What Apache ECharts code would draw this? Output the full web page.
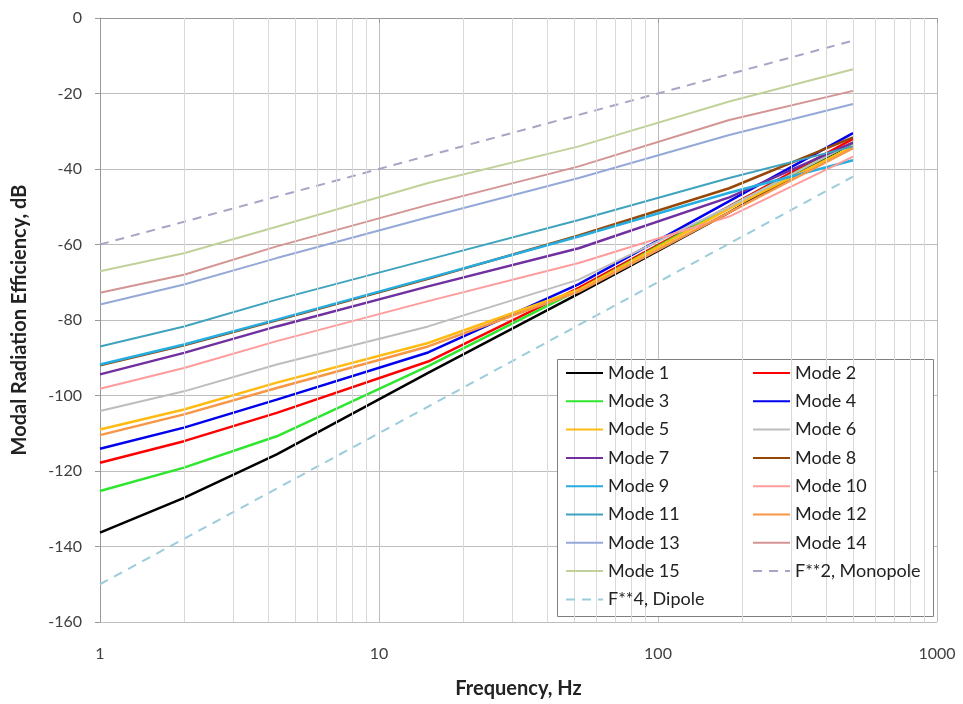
<!DOCTYPE html>
<html>
<head>
<meta charset="utf-8">
<script src="https://cdn.jsdelivr.net/npm/echarts@6/dist/echarts.min.js"></script>
<style>
html,body{margin:0;padding:0;background:#fff;}
#chart{width:963px;height:704px;}
</style>
</head>
<body>
<div id="chart"></div>
<script>
// Frequencies (Hz) at which the mode curves are sampled
var freqs = [1, 2, 4.3, 15, 52, 180, 500];

var mode1  = [-136.3, -127.1, -115.6, -94.0, -73.0, -51.5, -33.0];
var mode2  = [-117.8, -112.1, -104.6, -91.0, -71.5, -49.9, -32.0];
var mode3  = [-125.3, -119.1, -110.8, -92.2, -72.0, -50.0, -33.0];
var mode4  = [-114.1, -108.5, -101.1, -88.6, -70.5, -48.5, -30.5];
var mode5  = [-109.0, -103.7, -96.6, -86.1, -72.0, -50.5, -34.0];
var mode6  = [-104.1, -98.9, -91.8, -81.7, -69.3, -50.0, -33.0];
var mode7  = [-94.4, -88.7, -81.7, -71.1, -61.0, -47.5, -33.0];
var mode8  = [-92.0, -86.7, -80.1, -69.1, -57.6, -45.1, -31.6];
var mode9  = [-91.8, -86.5, -79.9, -68.9, -57.9, -46.3, -37.7];
var mode10 = [-98.2, -92.7, -85.6, -75.0, -64.9, -52.6, -36.7];
var mode11 = [-87.0, -81.7, -74.6, -64.0, -53.5, -42.4, -34.0];
var mode12 = [-110.5, -105.0, -98.0, -87.0, -72.5, -51.5, -34.5];
var mode13 = [-75.9, -70.6, -63.6, -52.8, -42.4, -31.0, -22.8];
var mode14 = [-72.8, -68.0, -60.5, -49.5, -39.3, -27.0, -19.3];
var mode15 = [-67.1, -62.3, -55.3, -43.7, -34.0, -22.1, -13.6];

// Reference lines (end points)
var refFreqs = [1, 500];
var monopole = [-60, -6];
var dipole = [-150, -42];

// Axis ticks
var yTicks = {min: -160, max: 0, interval: 20};
var xRange = {min: 1, max: 1000};
var minorGridFreqs = [2,3,4,5,6,7,8,9,20,30,40,50,60,70,80,90,200,300,400,500,600,700,800,900];

function pairs(xs, ys){ return xs.map(function(x,i){ return [x, ys[i]]; }); }

var modes = [
  {name:'Mode 1', data:mode1, color:'#000000', w:2.5},
  {name:'Mode 2', data:mode2, color:'#ff0000', w:2.5},
  {name:'Mode 3', data:mode3, color:'#2ee62e', w:2.5},
  {name:'Mode 4', data:mode4, color:'#0000ee', w:2.5},
  {name:'Mode 5', data:mode5, color:'#ffbb11', w:2.5},
  {name:'Mode 6', data:mode6, color:'#bdbdbd', w:2},
  {name:'Mode 7', data:mode7, color:'#7030a0', w:2.5},
  {name:'Mode 8', data:mode8, color:'#974706', w:2.5},
  {name:'Mode 9', data:mode9, color:'#25ade0', w:2.5},
  {name:'Mode 10', data:mode10, color:'#ff9b9b', w:2},
  {name:'Mode 11', data:mode11, color:'#3fa3bd', w:2},
  {name:'Mode 12', data:mode12, color:'#f79646', w:2.5},
  {name:'Mode 13', data:mode13, color:'#95a9d8', w:2},
  {name:'Mode 14', data:mode14, color:'#d39593', w:2},
  {name:'Mode 15', data:mode15, color:'#c0d29a', w:2}
];

var series = modes.map(function(m){
  return {
    name: m.name, type:'line', data: pairs(freqs, m.data),
    symbol:'none', showSymbol:false, smooth:false,
    lineStyle:{color:m.color, width:m.w}, itemStyle:{color:m.color},
    animation:false, z:3
  };
});
series.push({
  name:'F**2, Monopole', type:'line', data: pairs(refFreqs, monopole),
  symbol:'none', lineStyle:{color:'#aba3c5', width:2, type:[9,7]}, itemStyle:{color:'#aba3c5'},
  animation:false, z:3
});
series.push({
  name:'F**4, Dipole', type:'line', data: pairs(refFreqs, dipole),
  symbol:'none', lineStyle:{color:'#9cccdc', width:2, type:[9,7]}, itemStyle:{color:'#9cccdc'},
  animation:false, z:3
});
// minor vertical grid lines via markLine
series.push({
  name:'_grid', type:'line', data:[], symbol:'none', animation:false, z:1, silent:true,
  markLine:{
    silent:true, symbol:['none','none'], label:{show:false}, animation:false,
    lineStyle:{color:'#d9d9d9', width:1, type:'solid'},
    data: minorGridFreqs.map(function(f){ return {xAxis:f}; })
  }
});

var col1 = ['Mode 1','Mode 3','Mode 5','Mode 7','Mode 9','Mode 11','Mode 13','Mode 15','F**4, Dipole'];
var col2 = ['Mode 2','Mode 4','Mode 6','Mode 8','Mode 10','Mode 12','Mode 14','F**2, Monopole'];
var font = 'Lato, "Open Sans", sans-serif';
function legendCfg(data, left){
  return {
    data: data, orient:'vertical', left:left, top:364, padding:0, z:6,
    itemWidth:37, itemHeight:18, itemGap:10.3,
    itemStyle:{opacity:0},
    textStyle:{fontSize:18, color:'#222', fontFamily:font, lineHeight:18},
    selectedMode:false
  };
}

var chart = echarts.init(document.getElementById('chart'), null, {renderer:'canvas'});
chart.setOption({
  backgroundColor:'#ffffff',
  animation:false,
  grid:{left:100, right:26, top:18, bottom:81, containLabel:false},
  xAxis:{
    type:'log', logBase:10, min:xRange.min, max:xRange.max,
    name:'Frequency, Hz', nameLocation:'middle', nameGap:57,
    nameTextStyle:{fontSize:20, fontWeight:'bold', color:'#222', fontFamily:font},
    axisLine:{show:true, lineStyle:{color:'#999', width:1}},
    axisTick:{show:true, length:5, lineStyle:{color:'#999'}},
    axisLabel:{fontSize:16, color:'#404040', margin:24, fontFamily:font,
      formatter:function(v){ return String(Math.round(v)); }},
    splitLine:{show:true, lineStyle:{color:'#bdbdbd', width:1}},
    minorTick:{show:false}, minorSplitLine:{show:false}
  },
  yAxis:{
    type:'value', min:yTicks.min, max:yTicks.max, interval:yTicks.interval,
    name:'Modal Radiation Efficiency, dB', nameLocation:'middle', nameGap:70, nameRotate:90,
    nameTextStyle:{fontSize:20, fontWeight:'bold', color:'#222', fontFamily:font},
    axisLine:{show:true, lineStyle:{color:'#999', width:1}},
    axisTick:{show:true, length:5, lineStyle:{color:'#999'}},
    axisLabel:{fontSize:16, color:'#404040', margin:18, fontFamily:font},
    splitLine:{show:true, lineStyle:{color:'#bdbdbd', width:1}}
  },
  legend:[legendCfg(col1, 565), legendCfg(col2, 752)],
  graphic:[{
    type:'rect', left:557, top:359, z:5, silent:true,
    shape:{width:376, height:257},
    style:{fill:'#ffffff', stroke:'#7f7f7f', lineWidth:1}
  }],
  series: series
});
</script>
</body>
</html>
